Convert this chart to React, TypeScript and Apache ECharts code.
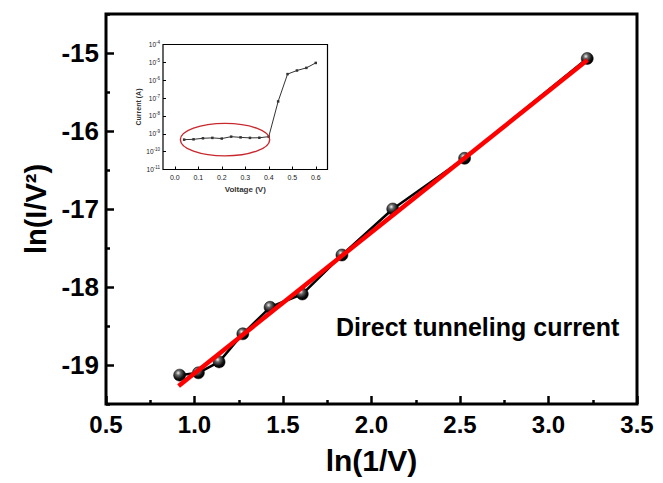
import React, { useEffect, useRef } from "react";
import * as echarts from "echarts";

// Main plot: ln(1/V) vs ln(I/V^2)
const lnInvV = [0.916, 1.022, 1.139, 1.273, 1.427, 1.609, 1.833, 2.12, 2.526, 3.219];
const lnIV2 = [-19.13, -19.1, -18.96, -18.6, -18.26, -18.09, -17.59, -17.0, -16.35, -15.07];
// linear fit end points
const fitX = [0.91, 3.22];
const fitY = [-19.27, -15.09];

const xTicks = [0.5, 1.0, 1.5, 2.0, 2.5, 3.0, 3.5];
const yMajorTicks = [-19, -18, -17, -16, -15];
const yMinorTicks = [-19.5, -18.5, -17.5, -16.5, -15.5, -14.5];

// Inset: I-V on log scale
const voltage = [0.04, 0.08, 0.12, 0.16, 0.2, 0.24, 0.28, 0.32, 0.36, 0.4, 0.44, 0.48, 0.52, 0.56, 0.6];
const current = [4.7e-10, 4.9e-10, 5.6e-10, 5.9e-10, 5.4e-10, 6.9e-10, 6.3e-10, 5.9e-10, 6.0e-10, 6.9e-10, 6.5e-8, 2.2e-6, 3.5e-6, 4.9e-6, 9.3e-6];
const insetXTicks = [0, 0.1, 0.2, 0.3, 0.4, 0.5, 0.6];
// ellipse around low-bias region: center, half-width (V), half-height (decades)
const ellipseCenter = [0.214, 4.7e-10];
const ellipseHalfV = 0.19;
const ellipseHalfDecades = 0.91;

const FONT = "'Liberation Sans', Arial, sans-serif";

export default function App() {
  const ref = useRef<HTMLDivElement>(null);
  useEffect(() => {
    document.body.style.margin = "0";
    const chart = echarts.init(ref.current!, null, { renderer: "svg" });
    const ball = new echarts.graphic.RadialGradient(0.38, 0.32, 0.65, [
      { offset: 0, color: "#f2f2f2" },
      { offset: 0.3, color: "#6a6a6a" },
      { offset: 0.75, color: "#111" },
      { offset: 1, color: "#000" },
    ]);
    chart.setOption({
      animation: false,
      backgroundColor: "#fff",
      grid: [
        { left: 106, right: 26, top: 14, bottom: 79, show: true, borderColor: "#000", borderWidth: 3, backgroundColor: "transparent" },
        { left: 163, top: 44.5, width: 164.5, height: 125, show: true, borderColor: "#000", borderWidth: 1.2, backgroundColor: "#fff", z: 5 },
      ],
      xAxis: [
        {
          type: "value", gridIndex: 0, min: 0.5, max: 3.5, interval: 0.5,
          splitLine: { show: false }, axisLine: { show: false, onZero: false },
          axisTick: { inside: true, length: 8, lineStyle: { color: "#000", width: 2.5 } },
          minorTick: { show: true, splitNumber: 2, length: 4, lineStyle: { color: "#000", width: 2.5 } },
          axisLabel: { margin: 8, fontSize: 24, fontWeight: "bold", color: "#000", fontFamily: FONT, formatter: (v: number) => v.toFixed(1), customValues: xTicks },
          name: "ln(1/V)", nameLocation: "middle", nameGap: 41,
          nameTextStyle: { fontSize: 30, fontWeight: "bold", color: "#000", fontFamily: FONT },
        },
        {
          type: "value", gridIndex: 1, min: -0.05, max: 0.65,
          splitLine: { show: false }, axisLine: { show: false, onZero: false },
          axisTick: { inside: true, length: 3, customValues: insetXTicks, lineStyle: { color: "#000", width: 1 } },
          axisLabel: { margin: 4, fontSize: 7, color: "#222", fontFamily: FONT, customValues: insetXTicks, formatter: (v: number) => v.toFixed(1) },
          name: "Voltage (V)", nameLocation: "middle", nameGap: 16,
          nameTextStyle: { fontSize: 8, fontWeight: "bold", color: "#333", fontFamily: FONT },
          z: 6,
        },
      ],
      yAxis: [
        {
          type: "value", gridIndex: 0, min: -19.5, max: -14.5,
          splitLine: { show: false }, axisLine: { show: false, onZero: false },
          axisTick: { inside: true, length: 8, customValues: yMajorTicks, lineStyle: { color: "#000", width: 2.5 } },
          axisLabel: { margin: 7, fontSize: 26, fontWeight: "bold", color: "#000", fontFamily: FONT, customValues: yMajorTicks },
          name: "ln(I/V²)", nameLocation: "middle", nameGap: 56,
          nameTextStyle: { fontSize: 29, fontWeight: "bold", color: "#000", fontFamily: FONT },
        },
        {
          type: "value", gridIndex: 0, min: -19.5, max: -14.5, position: "left",
          splitLine: { show: false }, axisLine: { show: false, onZero: false },
          axisTick: { inside: true, length: 4, customValues: yMinorTicks, lineStyle: { color: "#000", width: 2.5 } },
          axisLabel: { show: false },
        },
        {
          type: "log", logBase: 10, gridIndex: 1, min: 1e-11, max: 1e-4, position: "left",
          splitLine: { show: false }, axisLine: { show: false, onZero: false },
          axisTick: { inside: true, length: 3, lineStyle: { color: "#000", width: 1 } },
          axisLabel: {
            margin: 3, fontSize: 6.5, color: "#222", fontFamily: FONT,
            formatter: (v: number) => `10{s|${Math.round(Math.log10(v))}}`,
            rich: { s: { fontSize: 4.5, verticalAlign: "top", padding: [0, 0, 4, 0], color: "#222", fontFamily: FONT } },
          },
          name: "Current (A)", nameLocation: "middle", nameGap: 19,
          nameTextStyle: { fontSize: 7, fontWeight: "bold", color: "#333", fontFamily: FONT },
          z: 6,
        },
      ],
      series: [
        {
          type: "line", xAxisIndex: 0, yAxisIndex: 0,
          data: lnInvV.map((x, i) => [x, lnIV2[i]]),
          lineStyle: { color: "#000", width: 2.5 },
          symbol: "circle", symbolSize: 12,
          itemStyle: { color: ball, borderColor: "#000", borderWidth: 0.5 },
          z: 2,
        },
        {
          type: "line", xAxisIndex: 0, yAxisIndex: 0,
          data: fitX.map((x, i) => [x, fitY[i]]),
          lineStyle: { color: "#ff0000", width: 4.5 },
          symbol: "none", z: 3,
        },
        {
          type: "line", xAxisIndex: 1, yAxisIndex: 2,
          data: voltage.map((v, i) => [v, current[i]]),
          lineStyle: { color: "#333", width: 1 },
          symbol: "rect", symbolSize: 2.5,
          itemStyle: { color: "#333" },
          z: 7,
        },
      ],
    });
    const c = chart.convertToPixel({ xAxisIndex: 1, yAxisIndex: 2 }, ellipseCenter) as number[];
    const r = chart.convertToPixel({ xAxisIndex: 1, yAxisIndex: 2 }, [ellipseCenter[0] + ellipseHalfV, ellipseCenter[1] * Math.pow(10, ellipseHalfDecades)]) as number[];
    chart.setOption({
      graphic: [
        {
          type: "ellipse", z: 100,
          shape: { cx: c[0], cy: c[1], rx: Math.abs(r[0] - c[0]), ry: Math.abs(c[1] - r[1]) },
          style: { fill: "none", stroke: "#c8282d", lineWidth: 1.4 },
        },
        {
          type: "text", z: 100, x: 336, y: 327,
          style: { text: "Direct tunneling current", fontSize: 25, fontWeight: "bold", fill: "#000", fontFamily: FONT, verticalAlign: "middle", align: "left" },
        },
      ],
    });
    return () => chart.dispose();
  }, []);
  return <div ref={ref} style={{ position: "fixed", left: 0, top: 0, width: 663, height: 483 }} />;
}
